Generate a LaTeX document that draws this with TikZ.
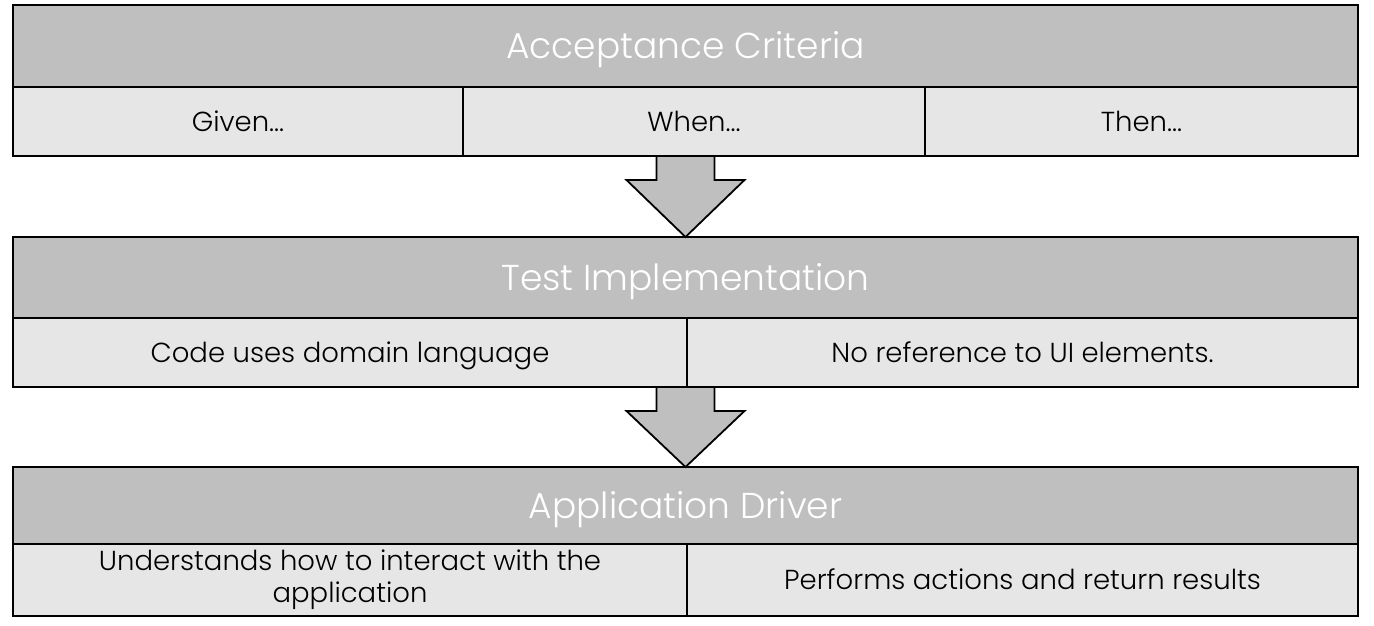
\documentclass[tikz,border=0pt]{standalone}
\usepackage{fontspec}
\setmainfont{Poppins}
\newfontfamily\lightfont{Poppins Light}
\usepackage{xcolor}
\definecolor{hdrgray}{RGB}{191, 191, 191}
\definecolor{cellgray}{RGB}{230, 230, 230}
\usetikzlibrary{positioning, calc}

\begin{document}
\begin{tikzpicture}[x=1pt, y=-1pt, node distance=0pt,
        header/.style={rectangle, draw=black, fill=hdrgray, line width=1.8pt, minimum width=1345pt, inner sep=0pt, outer sep=0pt, anchor=north west, text=white, text height=25pt, text depth=0pt, font=\lightfont\fontsize{36}{40}\selectfont},
        cell/.style={rectangle, draw=black, fill=cellgray, line width=1.5pt, inner sep=0pt, outer sep=0pt, align=center, text height=19pt, text depth=0pt, font=\lightfont\fontsize{27.5}{32}\selectfont},
        bigarrow/.style={draw=black, fill=hdrgray, line width=1.8pt, line join=miter}]

        \useasboundingbox (0,0) rectangle (1374,626);

        % acceptance criteria
        \node [header, minimum height=82pt] (accept) at (13,5) {Acceptance Criteria};
        \node [cell, minimum width=450pt, minimum height=69pt, below right=0pt and 0pt of accept.south west] (given) {Given...};
        \node [cell, minimum width=462pt, minimum height=69pt, right=0pt of given] (when) {When...};
        \node [cell, minimum width=433pt, minimum height=69pt, right=0pt of when] (then) {Then...};

        % test implementation
        \node [header, minimum height=81pt] (testimpl) at (13,237) {Test Implementation};
        \node [cell, minimum width=674pt, minimum height=69pt, below right=0pt and 0pt of testimpl.south west] (domain) {Code uses domain language};
        \node [cell, minimum width=671pt, minimum height=69pt, right=0pt of domain] (noui) {No reference to UI elements.};

        % application driver
        \node [header, minimum height=77pt] (driver) at (13,467) {Application Driver};
        \node [cell, minimum width=674pt, minimum height=72pt, text height=, text depth=, below right=0pt and 0pt of driver.south west] (interact) {Understands how to interact with the\\application};
        \node [cell, minimum width=671pt, minimum height=72pt, right=0pt of interact] (perform) {Performs actions and return results};

        \path [bigarrow] let \p1=(when.south), \p2=(testimpl.north) in
            (\x2-29pt,\y1) -- (\x2-29pt,\y1-24pt) -- (\x2-59pt,\y1-24pt) -- (\x2,\y2)
            -- (\x2+59pt,\y1-24pt) -- (\x2+29pt,\y1-24pt) -- (\x2+29pt,\y1) -- cycle;
        \path [bigarrow] let \p1=(domain.south), \p2=(driver.north) in
            (\x2-29pt,\y1) -- (\x2-29pt,\y1-24pt) -- (\x2-59pt,\y1-24pt) -- (\x2,\y2)
            -- (\x2+59pt,\y1-24pt) -- (\x2+29pt,\y1-24pt) -- (\x2+29pt,\y1) -- cycle;
    \end{tikzpicture}
\end{document}
